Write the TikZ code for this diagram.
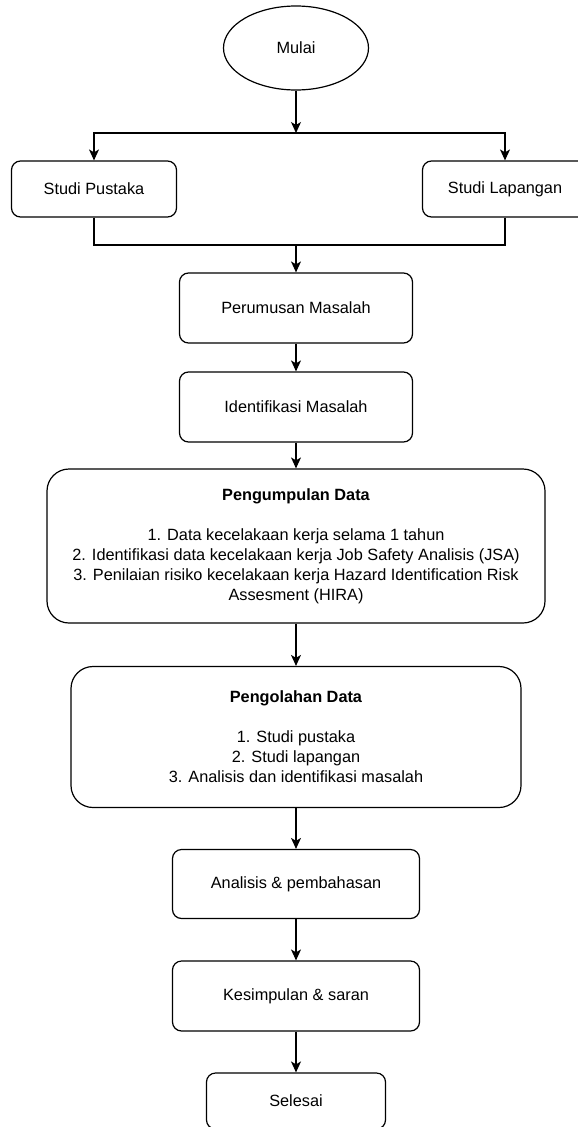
\documentclass[tikz,border=0pt]{standalone}
\usepackage{fontspec}
\setmainfont{Liberation Sans}
\usetikzlibrary{arrows.meta,shapes,positioning}

\begin{document}
\begin{tikzpicture}[x=1pt,y=-1pt,>={Stealth[length=11pt,width=10pt,inset=3pt]},
every node/.style={font=\fontsize{16.3}{20}\selectfont},
kotak/.style={draw,line width=1.2pt,rounded corners=9pt,align=center,inner sep=0pt},
besar/.style={kotak,rounded corners=22pt},
panah/.style={->,line width=1.2pt},
garis/.style={line width=1.2pt}]
\useasboundingbox (0,0) rectangle (578,1127);
\node[draw,line width=1.2pt,ellipse,minimum width=145pt,minimum height=84pt,inner sep=0pt](mulai) at (296,48){Mulai};
\node[kotak,minimum width=165pt,minimum height=56pt](pustaka) at (94,189){Studi Pustaka};
\node[kotak,minimum width=165pt,minimum height=56pt](lapangan) at (505,189){Studi Lapangan};
\node[kotak,minimum width=233pt,minimum height=70pt](perumusan) at (296,308){Perumusan Masalah};
\node[kotak,minimum width=233pt,minimum height=70pt](identifikasi) at (296,407){Identifikasi Masalah};
\node[besar,minimum width=498pt,minimum height=154pt](pengumpulan) at (296,546)
{\textbf{Pengumpulan Data}\\[20pt]
1. Data kecelakaan kerja selama 1 tahun\\
2. Identifikasi data kecelakaan kerja Job Safety Analisis (JSA)\\
3. Penilaian risiko kecelakaan kerja Hazard Identification Risk\\
Assesment (HIRA)};
\node[besar,minimum width=450pt,minimum height=141pt](pengolahan) at (296,737)
{\textbf{Pengolahan Data}\\[20pt]
1. Studi pustaka\\
2. Studi lapangan\\
3. Analisis dan identifikasi masalah};
\node[kotak,minimum width=247pt,minimum height=69pt](analisis) at (296,884){Analisis \& pembahasan};
\node[kotak,minimum width=247pt,minimum height=70pt](kesimpulan) at (296,996){Kesimpulan \& saran};
\node[kotak,minimum width=179pt,minimum height=56pt](selesai) at (296,1101){Selesai};
\coordinate(cabang) at (296,133);
\coordinate(gabung) at (296,245);
\draw[panah](mulai)--(cabang);
\draw[panah](cabang)-|(pustaka);
\draw[panah](cabang)-|(lapangan);
\draw[garis](pustaka)|-(gabung);
\draw[garis](lapangan)|-(gabung);
\draw[panah](gabung)--(perumusan);
\draw[panah](perumusan)--(identifikasi);
\draw[panah](identifikasi)--(pengumpulan);
\draw[panah](pengumpulan)--(pengolahan);
\draw[panah](pengolahan)--(analisis);
\draw[panah](analisis)--(kesimpulan);
\draw[panah](kesimpulan)--(selesai);
\end{tikzpicture}
\end{document}
